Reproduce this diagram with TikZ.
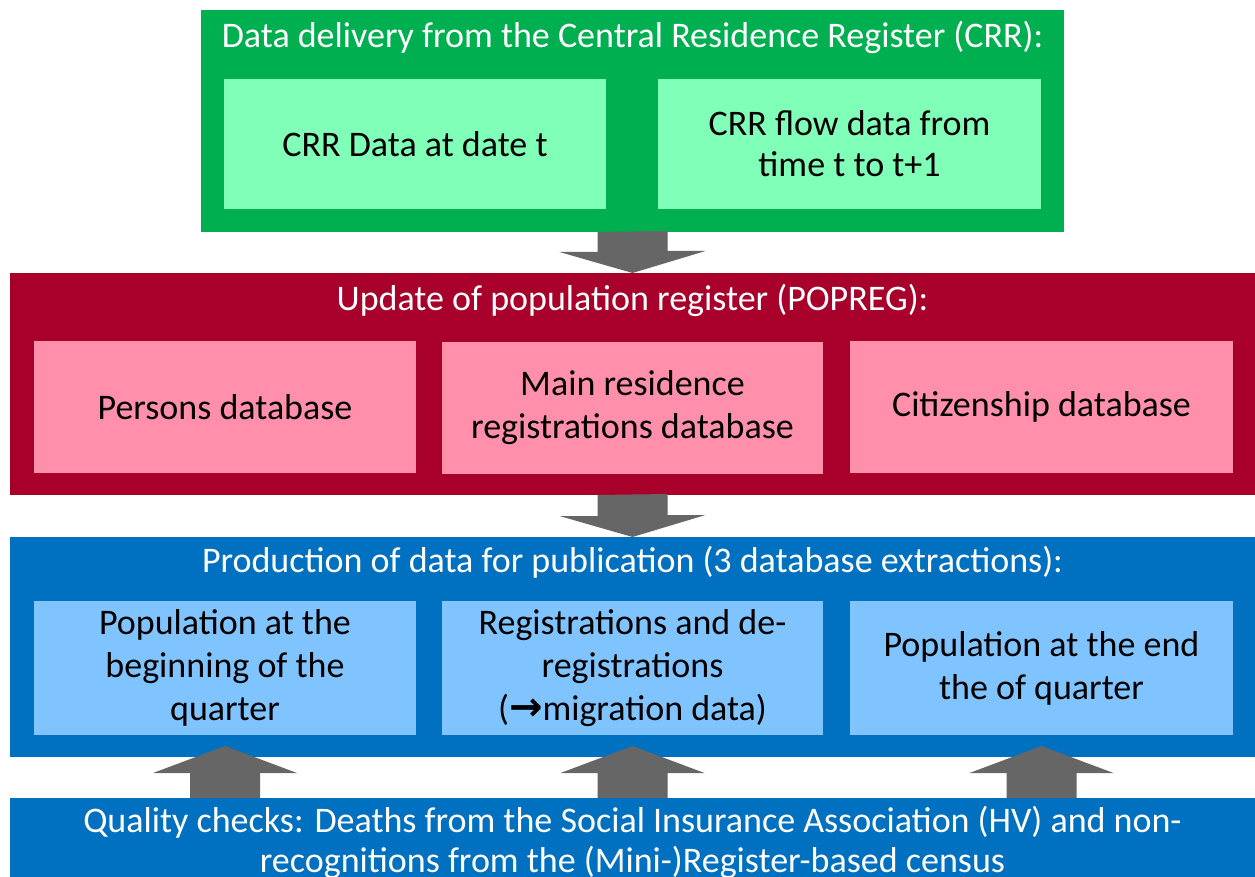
\documentclass[tikz,border=0pt]{standalone}
\usepackage{fontspec}
\setmainfont{Carlito}
\newfontfamily\arrowfont{DejaVu Sans}
\usetikzlibrary{calc}
\definecolor{gOut}{RGB}{0,176,80}
\definecolor{gIn}{RGB}{127,255,183}
\definecolor{rOut}{RGB}{168,0,42}
\definecolor{rIn}{RGB}{255,143,171}
\definecolor{bOut}{RGB}{0,112,192}
\definecolor{bIn}{RGB}{127,196,255}
\definecolor{arrGray}{RGB}{102,102,102}
\tikzset{
  panel/.style={rectangle, draw=none, anchor=north west, inner sep=0pt, outer sep=0pt},
  cell/.style={rectangle, draw=none, inner sep=2pt, outer sep=0pt, minimum width=382pt, align=center, text=black, font=\fontsize{36}{43}\selectfont},
  title/.style={inner sep=0pt, text=white, align=center, font=\fontsize{36}{40}\selectfont},
  blockarrow/.style={fill=arrGray, draw=none}
}
\begin{document}
\begin{tikzpicture}[x=1pt,y=-1pt]
\useasboundingbox (0,0) rectangle (1255,877);
% green panel
\node[panel, fill=gOut, minimum width=863pt, minimum height=222pt] (crr) at (201,10) {};
\node[title] (crrT) at (632.5,37) {Data delivery from the Central Residence Register (CRR):};
\node[cell, fill=gIn, minimum height=130pt, font=\fontsize{36}{41}\selectfont] (crrA) at (415,144) {CRR Data at date t};
\node[cell, fill=gIn, minimum height=130pt, minimum width=383pt, font=\fontsize{36}{41}\selectfont] (crrB) at (849.5,144) {CRR flow data from\\time t to t+1};
% red panel
\node[panel, fill=rOut, minimum width=1245pt, minimum height=222pt] (pop) at (10,273) {};
\node[title] (popT) at (632.5,300) {Update of population register (POPREG):};
\node[cell, fill=rIn, minimum height=132pt] (popA) at (225,407) {Persons database};
\node[cell, fill=rIn, minimum height=132pt, minimum width=381pt] (popB) at (632.5,408) {Main residence\\registrations database};
\node[cell, fill=rIn, minimum height=132pt, minimum width=383pt] (popC) at (1041.5,407) {Citizenship database};
% blue panel
\node[panel, fill=bOut, minimum width=1245pt, minimum height=220pt] (pub) at (10,537) {};
\node[title] (pubT) at (632.5,562) {Production of data for publication (3 database extractions):};
\node[cell, fill=bIn, minimum height=134pt] (pubA) at (225,668) {Population at the\\beginning of the\\quarter};
\node[cell, fill=bIn, minimum height=134pt, minimum width=381pt] (pubB) at (632.5,668) {Registrations and de-\\registrations\\({\arrowfont\bfseries\fontsize{40}{43}\selectfont →}migration data)};
\node[cell, fill=bIn, minimum height=134pt, minimum width=383pt] (pubC) at (1041.5,668) {Population at the end\\the of quarter};
% quality checks
\node[panel, fill=bOut, minimum width=1245pt, minimum height=79pt] (qc) at (10,798) {};
\node[title] (qcT) at (632.5,842) {Quality checks: Deaths from the Social Insurance Association (HV) and non-\\recognitions from the (Mini-)Register-based census};
% down arrows
\fill[blockarrow] ($(crr.south)+(-35,0)$) -- ++(0,20) -- ++(-38,0) -- (pop.north) -- ++(73,-22) -- ++(-38,0) -- ++(0,-20) -- cycle;
\fill[blockarrow] ($(pop.south)+(-35,0)$) -- ++(0,21) -- ++(-38,0) -- (pub.north) -- ++(73,-22) -- ++(-38,0) -- ++(0,-21) -- cycle;
% up arrows
\foreach \c in {pubA,pubB,pubC}{
  \fill[blockarrow] ($(\c |- qc.north)+(-35,0)$) -- ++(0,-25) -- ++(-37,0) -- ($(\c |- qc.north)+(0,-52)$) -- ++(72,27) -- ++(-37,0) -- ++(0,25) -- cycle;
}
\end{tikzpicture}
\end{document}
